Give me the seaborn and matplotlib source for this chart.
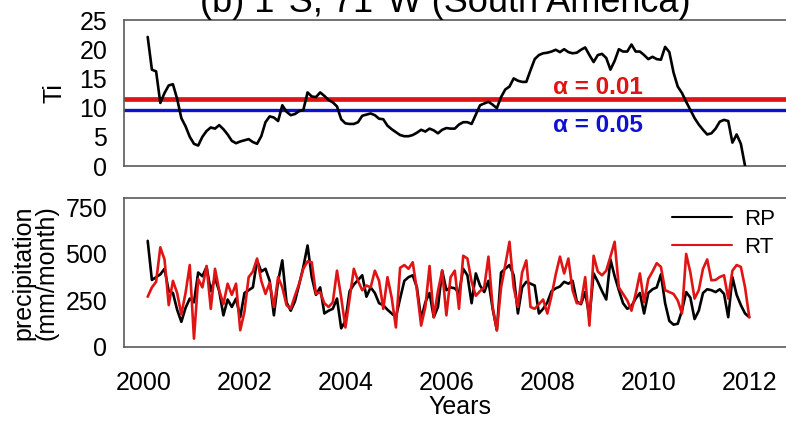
import numpy as np
import pandas as pd
import matplotlib
matplotlib.use("Agg")
import matplotlib.pyplot as plt
import seaborn as sns

# ---- data -------------------------------------------------------------
# monthly series, Jan 2000 .. Dec 2011 (decimal year at the end of each month)
n_months = 144
years = 2000 + (np.arange(n_months) + 1) / 12.0

# test statistic Ti (one value fewer than the precipitation series)
ti = [
    22.1, 16.5, 16.2, 10.8, 12.5, 13.8, 14.0, 11.5, 8.2, 6.8, 5.0, 3.8,
    3.5, 5.0, 6.0, 6.6, 6.4, 7.0, 6.3, 5.4, 4.3, 3.9, 4.2, 4.4,
    4.6, 4.1, 3.8, 5.1, 7.5, 8.5, 8.3, 7.7, 10.4, 9.3, 8.7, 8.9,
    9.4, 9.6, 12.6, 11.9, 11.8, 12.6, 12.0, 11.3, 10.9, 10.2, 8.0, 7.3,
    7.2, 7.2, 7.5, 8.6, 8.8, 9.0, 8.7, 8.1, 8.0, 6.9, 6.3, 5.8,
    5.3, 5.1, 5.1, 5.3, 5.7, 6.2, 5.9, 6.4, 6.1, 5.6, 6.2, 6.5,
    6.4, 6.4, 7.1, 7.5, 7.5, 7.2, 8.8, 10.4, 10.7, 11.0, 10.5, 9.9,
    11.8, 13.1, 13.6, 15.0, 14.6, 14.4, 14.4, 16.4, 18.3, 19.0, 19.3, 19.4,
    19.6, 19.9, 19.5, 20.0, 19.5, 19.3, 19.4, 19.9, 20.3, 19.0, 17.8, 19.0,
    19.2, 18.5, 16.5, 18.0, 20.0, 19.6, 19.6, 20.8, 19.6, 19.6, 19.0, 18.3,
    18.7, 18.3, 18.2, 20.4, 19.5, 16.0, 13.6, 12.5, 11.0, 9.6, 8.2, 7.1,
    6.2, 5.4, 5.6, 6.4, 7.6, 7.9, 7.7, 4.0, 5.4, 3.8, 0.0,
]

# critical values of Ti
crit_001 = 11.5
crit_005 = 9.6

# monthly precipitation (mm/month)
rp = [
    570, 360, 375, 390, 420, 300, 290, 200, 135, 210, 260, 240,
    400, 380, 430, 300, 370, 300, 170, 255, 215, 260, 160, 290,
    305, 320, 465, 405, 420, 355, 170, 355, 465, 240, 195, 245,
    335, 430, 545, 375, 280, 320, 180, 195, 205, 260, 100, 140,
    300, 335, 360, 385, 270, 320, 290, 235, 225, 200, 180, 160,
    260, 355, 375, 385, 320, 150, 240, 290, 160, 215, 410, 305,
    320, 315, 290, 420, 385, 235, 395, 330, 295, 355, 205, 90,
    400, 420, 440, 385, 180, 320, 350, 340, 330, 180, 205, 240,
    300, 315, 325, 350, 340, 355, 245, 230, 295, 160, 395, 350,
    300, 255, 470, 380, 305, 235, 205, 220, 260, 290, 180, 290,
    310, 320, 390, 235, 140, 120, 125, 195, 295, 265, 150, 195,
    290, 310, 305, 295, 310, 285, 160, 375, 280, 225, 180, 160,
]
rt = [
    270, 320, 350, 535, 470, 225, 355, 290, 175, 290, 440, 45,
    365, 320, 435, 205, 420, 305, 230, 340, 280, 340, 90, 190,
    375, 405, 475, 355, 285, 345, 215, 375, 320, 225, 205, 275,
    340, 420, 460, 455, 285, 295, 235, 215, 240, 410, 265, 105,
    260, 420, 355, 305, 330, 320, 410, 355, 205, 375, 265, 105,
    425, 440, 420, 455, 305, 115, 215, 435, 160, 300, 410, 170,
    375, 410, 205, 490, 475, 350, 275, 300, 320, 485, 215, 90,
    320, 440, 565, 320, 215, 400, 465, 215, 205, 230, 255, 180,
    275, 390, 485, 395, 475, 305, 235, 235, 375, 115, 490, 405,
    385, 410, 485, 565, 320, 285, 250, 195, 285, 395, 240, 365,
    405, 450, 430, 305, 295, 285, 250, 180, 500, 400, 260, 305,
    420, 470, 358, 360, 376, 385, 260, 410, 440, 430, 320, 160,
]

series_names = ["RP", "RT"]
series_colors = {"RP": "#000000", "RT": "#e01414"}

ti_df = pd.DataFrame({"year": years[: len(ti)], "Ti": ti})
precip_df = pd.concat(
    [
        pd.DataFrame({"year": years, "precip": rp, "series": "RP"}),
        pd.DataFrame({"year": years, "precip": rt, "series": "RT"}),
    ],
    ignore_index=True,
)

# ---- style --------------------------------------------------------------
sns.set_style("white")
plt.rcParams["font.family"] = ["Liberation Sans", "DejaVu Sans"]
plt.rcParams["axes.edgecolor"] = "#5a5a5a"
plt.rcParams["axes.linewidth"] = 1.2
for key in ("text.color", "axes.labelcolor", "xtick.labelcolor", "ytick.labelcolor"):
    plt.rcParams[key] = "black"

W, H = 786, 421
fig = plt.figure(figsize=(W / 100, H / 100), dpi=100)


def px_box(left, top, right, bottom):
    return [left / W, 1 - bottom / H, (right - left) / W, (bottom - top) / H]


ax1 = fig.add_axes(px_box(124, 20, 795, 166))
ax2 = fig.add_axes(px_box(124, 198, 795, 347))

xlim = (1999.614, 2012.906)
fs = 18

# ---- top panel: Ti ------------------------------------------------------
ax1.axhline(crit_001, color="#e01414", lw=3.4, zorder=2)
ax1.axhline(crit_005, color="#1010d0", lw=2.4, zorder=2)
sns.lineplot(data=ti_df, x="year", y="Ti", ax=ax1, color="black", lw=1.9,
             estimator=None, sort=False, zorder=3)
ax1.text(2009.0, 13.5, "\u03b1 = 0.01", color="#e01414", fontsize=17.5,
         fontweight="bold", ha="center", va="center")
ax1.text(2009.0, 7.0, "\u03b1 = 0.05", color="#1010d0", fontsize=17.5,
         fontweight="bold", ha="center", va="center")
ax1.set_xlim(*xlim)
ax1.set_ylim(0, 25)
ax1.set_yticks([0, 5, 10, 15, 20, 25])
ax1.set_xticks([])
ax1.set_xlabel("")
ax1.set_ylabel("Ti", fontsize=fs)
ax1.yaxis.set_label_coords(-0.086, 0.5)
ax1.tick_params(axis="y", direction="in", length=5, width=1, color="#5a5a5a",
                labelsize=fs, pad=12)

# ---- bottom panel: precipitation ---------------------------------------
sns.lineplot(data=precip_df, x="year", y="precip", hue="series",
             hue_order=series_names, palette=series_colors, ax=ax2,
             estimator=None, sort=False, lw=1.9)
ax2.set_xlim(*xlim)
ax2.set_ylim(0, 800)
ax2.set_yticks([0, 250, 500, 750])
ax2.set_xticks(np.arange(2000, 2013, 2))
ax2.set_xlabel("Years", fontsize=fs, labelpad=0)
ax2.set_ylabel("precipitation\n(mm/month)", fontsize=fs, linespacing=0.95)
ax2.yaxis.set_label_coords(-0.098, 0.5)
ax2.tick_params(axis="y", direction="in", length=5, width=1, color="#5a5a5a",
                labelsize=fs, pad=12)
ax2.tick_params(axis="x", direction="out", length=6, width=1, color="#5a5a5a",
                labelsize=fs, pad=11)

leg = ax2.legend(frameon=False, fontsize=16, loc="upper left",
                 bbox_to_anchor=(0.800, 1.0), borderpad=0, handlelength=2.7,
                 handletextpad=0.55, labelspacing=0.3, title=None)
for h in leg.get_lines():
    h.set_linewidth(1.5)

# ---- title --------------------------------------------------------------
fig.text(445 / W, 1 - 11.5 / H, "(b) 1\u00b0S, 71\u00b0W (South America)",
         fontsize=26, ha="center", va="baseline")

fig.savefig("out.png", dpi=100)
